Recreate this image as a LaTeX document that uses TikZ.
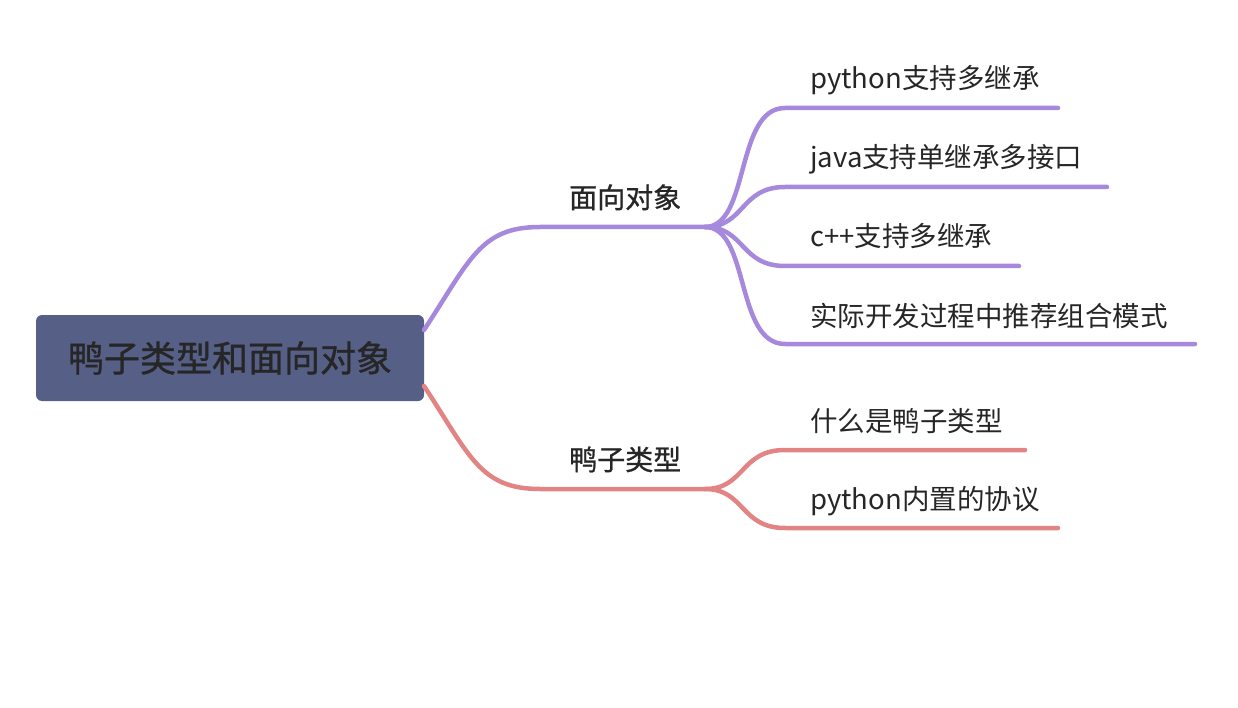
\documentclass[tikz,border=0pt]{standalone}
\usepackage{fontspec}
\setmainfont{Noto Sans CJK SC}
\newfontfamily\medfont[FakeBold=0.9]{Noto Sans CJK SC}
\definecolor{rootfill}{HTML}{565F85}
\definecolor{txt}{HTML}{262626}
\definecolor{purp}{HTML}{A688DD}
\definecolor{redl}{HTML}{E38484}
\tikzset{
  rootbox/.style={fill=rootfill, rounded corners=6pt, minimum width=388pt, minimum height=86pt, inner sep=0pt, text=txt, font=\fontsize{36}{40}\medfont},
  lbl/.style={anchor=base west, inner sep=0pt, text=txt, font=\fontsize{28}{32}\medfont},
  leaf/.style={anchor=base west, inner sep=0pt, text=txt, font=\fontsize{27.5}{31}\selectfont},
  branch/.style={line width=4.5pt, line cap=round},
}
\begin{document}
\begin{tikzpicture}[x=1pt,y=-1pt]
\useasboundingbox (0,0) rectangle (1238,708);
\node[rootbox] (root) at (230,358) {鸭子类型和面向对象};
% branch 1
\coordinate (r1) at (424,330);
\coordinate (b1s) at (540,227);
\coordinate (h1) at (705,227);
\node[lbl] (l1) at (569,208) {面向对象};
\draw[branch, purp] (r1) .. controls (470,260) and (480,227) .. (b1s) -- (h1);
\coordinate (c1a) at (785,108); \coordinate (e1a) at (1058,108);
\coordinate (c1b) at (785,187); \coordinate (e1b) at (1107,187);
\coordinate (c1c) at (785,266); \coordinate (e1c) at (1019,266);
\coordinate (c1d) at (785,344); \coordinate (e1d) at (1195,344);
\node[leaf] (t1a) at (810,89) {python支持多继承};
\node[leaf] (t1b) at (810,168) {java支持单继承多接口};
\node[leaf] (t1c) at (810,247) {c++支持多继承};
\node[leaf] (t1d) at (810,326) {实际开发过程中推荐组合模式};
\draw[branch, purp] (h1) .. controls (750,227) and (735,108) .. (c1a) -- (e1a);
\draw[branch, purp] (h1) .. controls (745,227) and (740,187) .. (c1b) -- (e1b);
\draw[branch, purp] (h1) .. controls (745,227) and (740,266) .. (c1c) -- (e1c);
\draw[branch, purp] (h1) .. controls (750,227) and (735,344) .. (c1d) -- (e1d);
% branch 2
\coordinate (r2) at (424,386);
\coordinate (b2s) at (540,489);
\coordinate (h2) at (705,489);
\node[lbl] (l2) at (569,470) {鸭子类型};
\draw[branch, redl] (r2) .. controls (470,456) and (480,489) .. (b2s) -- (h2);
\coordinate (c2a) at (785,450); \coordinate (e2a) at (1025,450);
\coordinate (c2b) at (785,528); \coordinate (e2b) at (1058,528);
\node[leaf] (t2a) at (810,431) {什么是鸭子类型};
\node[leaf] (t2b) at (810,509) {python内置的协议};
\draw[branch, redl] (h2) .. controls (745,489) and (740,450) .. (c2a) -- (e2a);
\draw[branch, redl] (h2) .. controls (745,489) and (740,528) .. (c2b) -- (e2b);
\end{tikzpicture}
\end{document}
